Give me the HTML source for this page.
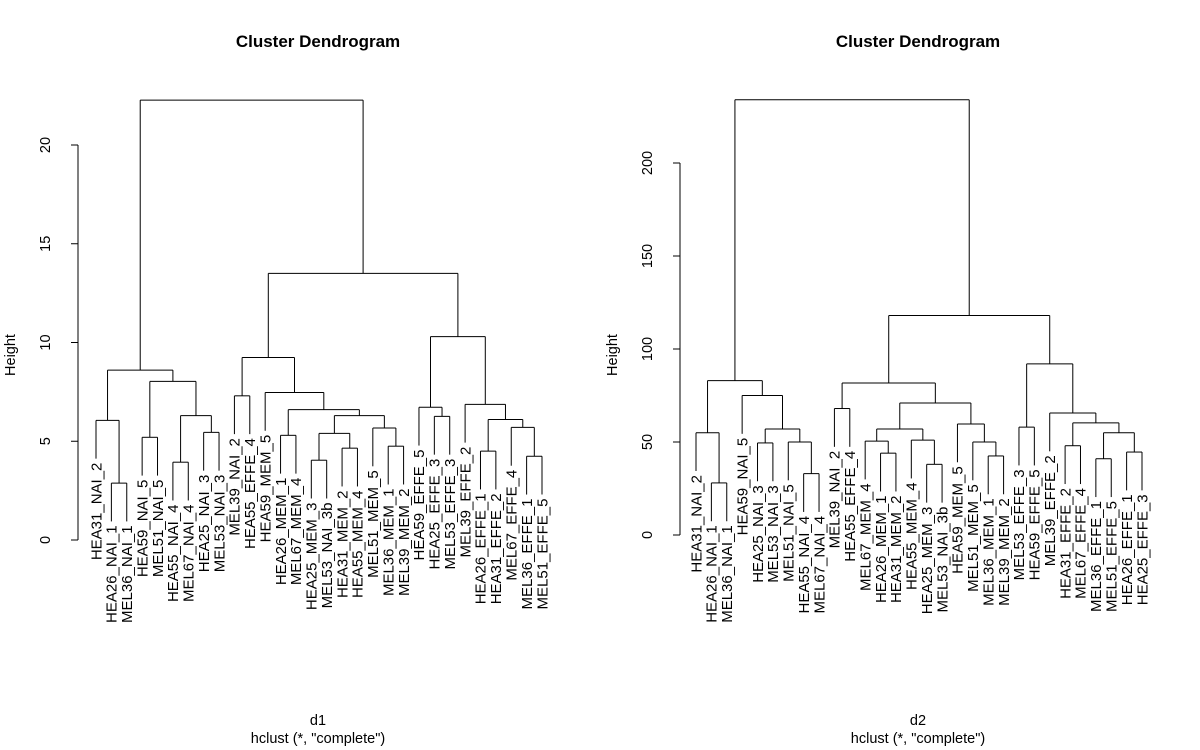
<!DOCTYPE html>
<html><head><meta charset="utf-8"><style>
html,body{margin:0;padding:0;background:#fff;}
svg{display:block;font-family:"Liberation Sans",Arial,sans-serif;}
</style></head><body>
<svg id="chart" width="1200" height="750" viewBox="0 0 1200 750"></svg>
<script>
// ---- Left panel data (d1) ----
const labels1 = ["HEA31_NAI_2","HEA26_NAI_1","MEL36_NAI_1","HEA59_NAI_5","MEL51_NAI_5","HEA55_NAI_4","MEL67_NAI_4","HEA25_NAI_3","MEL53_NAI_3","MEL39_NAI_2","HEA55_EFFE_4","HEA59_MEM_5","HEA26_MEM_1","MEL67_MEM_4","HEA25_MEM_3","MEL53_NAI_3b","HEA31_MEM_2","HEA55_MEM_4","MEL51_MEM_5","MEL36_MEM_1","MEL39_MEM_2","HEA59_EFFE_5","HEA25_EFFE_3","MEL53_EFFE_3","MEL39_EFFE_2","HEA26_EFFE_1","HEA31_EFFE_2","MEL67_EFFE_4","MEL36_EFFE_1","MEL51_EFFE_5"];
const mergeA1 = [-2,-1,-4,-6,-8,4,3,2,-10,-13,-15,-17,11,-20,-19,13,10,-12,9,-23,-22,-29,-28,-26,24,-25,21,19,8];
const mergeB1 = [-3,1,-5,-7,-9,5,6,7,-11,-14,-16,-18,12,-21,14,15,16,17,18,-24,20,-30,22,-27,23,25,26,27,28];
const heights1 = [2.88,6.06,5.2,3.94,5.45,6.3,8.03,8.6,7.3,5.3,4.04,4.65,5.4,4.75,5.67,6.3,6.6,7.47,9.24,6.26,6.72,4.24,5.7,4.5,6.1,6.87,10.3,13.5,22.27];
const ticks1 = [0,5,10,15,20];
// ---- Right panel data (d2) ----
const labels2 = ["HEA31_NAI_2","HEA26_NAI_1","MEL36_NAI_1","HEA59_NAI_5","HEA25_NAI_3","MEL53_NAI_3","MEL51_NAI_5","HEA55_NAI_4","MEL67_NAI_4","MEL39_NAI_2","HEA55_EFFE_4","MEL67_MEM_4","HEA26_MEM_1","HEA31_MEM_2","HEA55_MEM_4","HEA25_MEM_3","MEL53_NAI_3b","HEA59_MEM_5","MEL51_MEM_5","MEL36_MEM_1","MEL39_MEM_2","MEL53_EFFE_3","HEA59_EFFE_5","MEL39_EFFE_2","HEA31_EFFE_2","MEL67_EFFE_4","MEL36_EFFE_1","MEL51_EFFE_5","HEA26_EFFE_1","HEA25_EFFE_3"];
const mergeA2 = [-2,-1,-5,-8,-7,3,-4,2,-10,-13,-12,-16,-15,11,-20,-19,-18,14,9,-22,-27,-29,21,-25,24,-24,20,19,8];
const mergeB2 = [-3,1,-6,-9,4,5,6,7,-11,-14,10,-17,12,13,-21,15,16,17,18,-23,-28,-30,22,-26,23,25,26,27,28];
const heights2 = [28,55,49.5,33,50,57,75,83,68,44,50.5,38,51,57,42.5,50,59.7,71,81.7,58,41,44.6,55,48,60.3,65.6,92,118,234];
const ticks2 = [0,50,100,150,200];

const NS="http://www.w3.org/2000/svg";
const svg=document.getElementById('chart');
function mk(tag,attrs,parent){const e=document.createElementNS(NS,tag);for(const k in attrs)e.setAttribute(k,attrs[k]);(parent||svg).appendChild(e);return e;}

function panel(cfg){
  const g=mk('g',{});
  
  
  const n=cfg.labels.length;
  const xS=i=>cfg.x0+(cfg.x1-cfg.x0)*i/(n-1);
  const yS=h=>cfg.y0-h*cfg.k;
  const hMax=Math.max(...cfg.heights), hMin=Math.min(...cfg.heights);
  const hang=0.1*(hMax-hMin);
  const nodeX=[], nodeH=[];
  function pos(v){ return v<0 ? xS(-v-1) : nodeX[v-1]; }
  function top(v){ return v<0 ? null : nodeH[v-1]; }
  const st={stroke:'#000','stroke-width':1,fill:'none'};
  for(let m=0;m<cfg.heights.length;m++){
    const a=cfg.mA[m], b=cfg.mB[m], h=cfg.heights[m];
    const xa=pos(a), xb=pos(b);
    nodeX[m]=(xa+xb)/2; nodeH[m]=h;
    [[a,xa],[b,xb]].forEach(([v,xv])=>{
      const bottom = v<0 ? h-hang : top(v);
      const ln=mk('line',Object.assign({x1:xv,x2:xv,y1:yS(h),y2:yS(bottom)},st),g);
      
      
      if(v<0){
        const t=mk('text',{x:0,y:0,'font-size':15,'text-anchor':'end',dy:'0.35em',transform:`translate(${xv},${yS(bottom)+4}) rotate(-90)`},g);
        t.textContent=cfg.labels[-v-1];
        
        
      }
    });
    const hl=mk('line',Object.assign({x1:xa,x2:xb,y1:yS(h),y2:yS(h)},st),g);
    
    
  }
  const t0=cfg.ticks[0], t1=cfg.ticks[cfg.ticks.length-1];
  const ax=mk('line',Object.assign({x1:cfg.ax,x2:cfg.ax,y1:yS(t0),y2:yS(t1)},st),g);
  
  
  cfg.ticks.forEach(tv=>{
    const tk=mk('line',Object.assign({x1:cfg.ax-7,x2:cfg.ax,y1:yS(tv),y2:yS(tv)},st),g);
    
    
    const tl=mk('text',{x:0,y:0,'font-size':14.5,'text-anchor':'middle',transform:`translate(${cfg.ax-28},${yS(tv)}) rotate(-90)`},g);
    tl.textContent=tv;
    
    
  });
  const yt=mk('text',{x:0,y:0,'font-size':14.5,'text-anchor':'middle',transform:`translate(${cfg.ax-63},${cfg.ylabY}) rotate(-90)`},g);
  yt.textContent='Height';
  
  
  const ti=mk('text',{x:cfg.cx,y:47,'font-size':17,'font-weight':'bold','text-anchor':'middle'},g);
  ti.textContent='Cluster Dendrogram';
  
  
  const xl=mk('text',{x:cfg.cx,y:725,'font-size':14.5,'text-anchor':'middle'},g);
  xl.textContent=cfg.xlab;
  
  
  const sub=mk('text',{x:cfg.cx,y:743,'font-size':14.5,'text-anchor':'middle'},g);
  sub.textContent='hclust (*, "complete")';
  
  
}
panel({name:'dendrogram-d1',labels:labels1,mA:mergeA1,mB:mergeB1,heights:heights1,ticks:ticks1,x0:96,x1:542,y0:540,k:19.75,ax:78,cx:318,xlab:'d1',ylabY:355});
panel({name:'dendrogram-d2',labels:labels2,mA:mergeA2,mB:mergeB2,heights:heights2,ticks:ticks2,x0:696,x1:1142,y0:535,k:1.86,ax:680,cx:918,xlab:'d2',ylabY:355});
</script>
</body></html>
